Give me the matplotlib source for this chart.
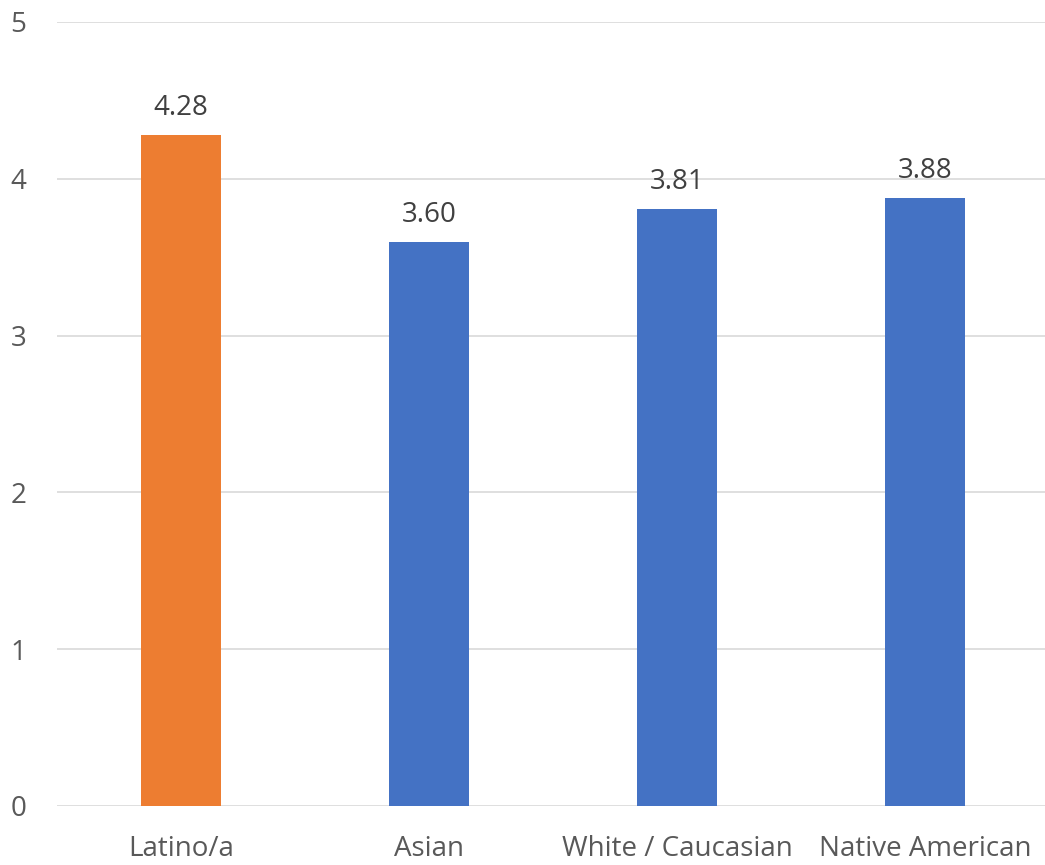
import matplotlib
matplotlib.use("Agg")
import matplotlib.pyplot as plt

categories = ["Latino/a", "Asian", "White / Caucasian", "Native American"]
values = [4.28, 3.60, 3.81, 3.88]
bar_colors = ["#ED7D31", "#4472C4", "#4472C4", "#4472C4"]
yticks = [0, 1, 2, 3, 4, 5]

plt.rcParams['font.family'] = ['Open Sans', 'DejaVu Sans']

fig = plt.figure(figsize=(10.45, 8.65), dpi=100)
ax = fig.add_axes([57/1045, 59/865, 992/1045, 784/865])

x = list(range(len(categories)))
bars = ax.bar(x, values, width=0.32, color=bar_colors, zorder=3)
for xi, v in zip(x, values):
    ax.annotate(f"{v:.2f}", (xi, v), xytext=(0, 9), textcoords="offset points",
                ha="center", va="bottom", fontsize=20, color="#404040")

ax.set_xlim(-0.5, len(categories) - 0.5)
ax.set_ylim(0, 5)
ax.set_yticks(yticks)
ax.set_yticklabels([str(t) for t in yticks])
ax.set_xticks(x)
ax.set_xticklabels(categories)
ax.tick_params(axis='both', length=0, labelsize=20, colors="#595959")
ax.tick_params(axis='y', pad=22)
ax.tick_params(axis='x', pad=21)
ax.yaxis.grid(True, color="#d9d9d9", linewidth=1.2, zorder=0)
for s in ax.spines.values():
    s.set_visible(False)

fig.savefig("out.png", dpi=100)
